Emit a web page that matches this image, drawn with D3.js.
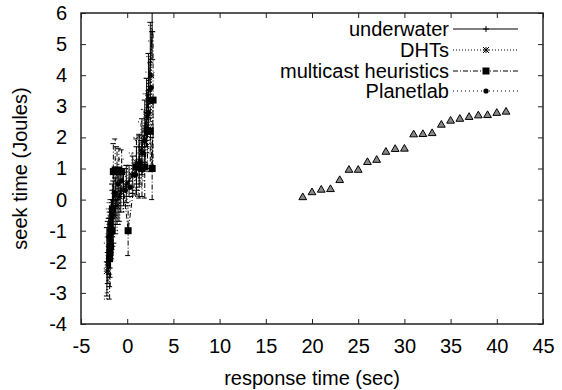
<!DOCTYPE html>
<html>
<head>
<meta charset="utf-8">
<script src="https://cdn.jsdelivr.net/npm/d3@7"></script>
<style>
  body { margin: 0; background: #fff; }
  svg text { font-family: "Liberation Sans", Arial, Helvetica, sans-serif; fill: #000; }
</style>
</head>
<body>
<figure id="chart" style="margin:0"></figure>
<script>
// tick values
const xTicks = [-5, 0, 5, 10, 15, 20, 25, 30, 35, 40, 45];
const yTicks = [-4, -3, -2, -1, 0, 1, 2, 3, 4, 5, 6];

// underwater (solid, +)
const underwaterX = [-2.2, -2.1, -2.0, -1.9, -1.8, -1.7, -1.6, -1.5, -1.3, -1.1, -0.9, -0.7, -0.4, -0.1, 0.2, 0.6, 1.0, 1.3, 1.6, 1.9, 2.1, 2.3, 2.5, 2.7];
const underwaterY = [-2.0, -1.7, -1.5, -1.3, -1.1, -0.8, -0.6, -0.4, -0.2, 0.0, 0.1, 0.3, 0.4, 0.5, 0.6, 0.8, 1.0, 1.3, 1.7, 2.2, 2.8, 3.5, 4.4, 5.4];
const underwaterErr = [1.1, 1.0, 0.9, 0.9, 0.8, 0.8, 0.9, 1.0, 0.9, 0.8, 0.8, 0.7, 0.6, 0.6, 0.5, 0.6, 0.7, 0.8, 0.9, 1.0, 1.1, 1.2, 1.3, 0.9];

// DHTs (dotted, x)
const dhtsX = [-2.2, -2.1, -2.0, -1.9, -1.8, -1.6, -1.4, -1.1, -0.8, -0.4, 0.0, 0.5, 1.0, 1.2, 1.5, 1.8, 2.0, 2.2, 2.4, 2.6];
const dhtsY = [-2.3, -2.1, -1.9, -1.6, -1.4, -1.0, -0.5, -0.2, 0.1, 0.3, 0.5, 0.8, 1.2, 1.0, 1.6, 1.9, 2.3, 2.7, 3.2, 4.0];
const dhtsErr = [0.9, 0.9, 0.8, 0.8, 0.8, 0.7, 0.7, 0.8, 0.9, 0.7, 0.6, 0.7, 0.8, 0.9, 0.9, 1.0, 1.1, 1.2, 1.4, 1.6];

// multicast heuristics (dash-dot, filled squares)
const multicastX = [-1.9, -1.85, -1.8, -1.7, -1.6, -1.5, -1.3, -1.1, -0.9, -0.6, 0.1, 1.0, 1.3, 1.6, 1.9, 2.2, 2.5, 2.7, 2.8];
const multicastY = [-1.9, -1.7, -1.5, -1.0, -0.3, 0.9, 0.95, 0.9, 0.95, 0.9, -1.0, 1.05, 1.05, 1.0, 1.05, 2.2, 2.2, 1.0, 3.2];
const multicastErr = [1.3, 1.1, 1.0, 0.9, 0.8, 0.9, 1.0, 0.8, 0.7, 0.7, 0.8, 0.9, 1.0, 0.9, 1.0, 1.2, 1.3, 1.0, 2.2];

// Planetlab (sparse dotted, filled circles)
const planetlabX = [-2.0, -1.9, -1.8, -1.6, -1.3, -1.0, -0.6, -0.2, 0.3, 0.9, 1.4, 1.7, 1.9, 2.3, 2.6];
const planetlabY = [-1.2, -1.0, -0.8, -0.3, 0.2, 0.5, 0.6, 0.3, 0.4, 0.8, 1.2, 1.5, 1.9, 2.8, 3.6];
const planetlabErr = [0.9, 0.9, 0.8, 0.8, 0.7, 0.8, 0.7, 0.6, 0.6, 0.7, 0.8, 0.9, 1.0, 1.3, 1.5];

// unlabelled triangle series
const triX = [19, 20, 21, 22, 23, 24, 25, 26, 27, 28, 29, 30, 31, 32, 33, 34, 35, 36, 37, 38, 39, 40, 41];
const triY = [0.07, 0.23, 0.31, 0.33, 0.62, 0.95, 0.95, 1.2, 1.27, 1.53, 1.62, 1.63, 2.09, 2.1, 2.13, 2.4, 2.53, 2.59, 2.65, 2.7, 2.71, 2.78, 2.82];

const W = 562, H = 390;
const margin = {left: 81, top: 13, right: 19, bottom: 66};
const width = W - margin.left - margin.right;
const height = H - margin.top - margin.bottom;
const fontSize = 20;

const svg = d3.select("figure#chart").append("svg")
  .attr("width", W).attr("height", H);

const g = svg.append("g")
  .attr("transform", "translate(" + margin.left + "," + margin.top + ")");

const x = d3.scaleLinear().domain([-5, 45]).range([0, width]);
const y = d3.scaleLinear().domain([-4, 6]).range([height, 0]);

g.append("clipPath").attr("id", "clip")
  .append("rect").attr("width", width).attr("height", height);

// axes with inward ticks, mirrored
function styleAxis(sel) {
  sel.select(".domain").remove();
  sel.selectAll("line").attr("stroke", "#222").attr("stroke-width", 1);
  sel.selectAll("text").style("font-size", fontSize + "px");
}
const fmt = d => String(d);
g.append("g").attr("transform", "translate(0," + height + ")")
  .call(d3.axisBottom(x).tickValues(xTicks).tickSizeInner(-5).tickSizeOuter(0).tickPadding(15).tickFormat(fmt))
  .call(styleAxis);
g.append("g")
  .call(d3.axisTop(x).tickValues(xTicks).tickSizeInner(-5).tickSizeOuter(0).tickFormat(""))
  .call(styleAxis);
g.append("g")
  .call(d3.axisLeft(y).tickValues(yTicks).tickSizeInner(-5).tickSizeOuter(0).tickPadding(14).tickFormat(fmt))
  .call(styleAxis);
g.append("g").attr("transform", "translate(" + width + ",0)")
  .call(d3.axisRight(y).tickValues(yTicks).tickSizeInner(-5).tickSizeOuter(0).tickFormat(""))
  .call(styleAxis);

g.append("rect").attr("width", width).attr("height", height)
  .attr("fill", "none").attr("stroke", "#222").attr("stroke-width", 1.5);

// marker drawing
function drawMarker(sel, type, cx, cy) {
  if (type === "plus") {
    sel.append("path").attr("d", `M${cx-3},${cy}H${cx+3}M${cx},${cy-3}V${cy+3}`)
      .attr("stroke", "#000").attr("stroke-width", 1);
  } else if (type === "star") {
    sel.append("path").attr("d", `M${cx-3},${cy-3}L${cx+3},${cy+3}M${cx-3},${cy+3}L${cx+3},${cy-3}M${cx-3},${cy}H${cx+3}M${cx},${cy-3}V${cy+3}`)
      .attr("stroke", "#000").attr("stroke-width", 1);
  } else if (type === "square") {
    sel.append("rect").attr("x", cx - 3.5).attr("y", cy - 3.5).attr("width", 7).attr("height", 7)
      .attr("fill", "#000");
  } else if (type === "circle") {
    sel.append("circle").attr("cx", cx).attr("cy", cy).attr("r", 2.6).attr("fill", "#000");
  }
}

const series = [
  {name: "underwater", xs: underwaterX, ys: underwaterY, err: underwaterErr, dash: null, marker: "plus"},
  {name: "DHTs", xs: dhtsX, ys: dhtsY, err: dhtsErr, dash: "1,2", marker: "star"},
  {name: "multicast heuristics", xs: multicastX, ys: multicastY, err: multicastErr, dash: "5,2,1,2", marker: "square"},
  {name: "Planetlab", xs: planetlabX, ys: planetlabY, err: planetlabErr, dash: "1,3", marker: "circle"}
];

const plot = g.append("g").attr("clip-path", "url(#clip)");
const line = d3.line().x(d => x(d[0])).y(d => y(d[1]));

series.forEach(s => {
  const pts = s.xs.map((v, i) => [v, s.ys[i], s.err[i]]);
  const sg = plot.append("g");
  // error bars
  pts.forEach(p => {
    const px = x(p[0]);
    sg.append("path")
      .attr("d", `M${px},${y(p[1] - p[2])}V${y(p[1] + p[2])}M${px-3},${y(p[1] - p[2])}H${px+3}M${px-3},${y(p[1] + p[2])}H${px+3}`)
      .attr("stroke", "#000").attr("stroke-width", 1).attr("fill", "none")
      .attr("stroke-dasharray", s.dash);
  });
  sg.append("path").datum(pts).attr("d", line)
    .attr("fill", "none").attr("stroke", "#000").attr("stroke-width", 1)
    .attr("stroke-dasharray", s.dash);
  pts.forEach(p => drawMarker(sg, s.marker, x(p[0]), y(p[1])));
});

// triangles
const tri = d3.symbol().type(d3.symbolTriangle).size(26);
plot.selectAll("path.tri").data(triX.map((v, i) => [v, triY[i]])).enter()
  .append("path").attr("class", "tri")
  .attr("d", tri)
  .attr("transform", d => "translate(" + x(d[0]) + "," + y(d[1]) + ")")
  .attr("fill", "#888").attr("stroke", "#000").attr("stroke-width", 1);

// legend
const legend = g.append("g");
const legY = [29, 50, 71, 91].map(v => v - margin.top);
series.forEach((s, i) => {
  const ly = legY[i];
  legend.append("text").attr("x", 449 - margin.left).attr("y", ly)
    .attr("dy", "0.35em").attr("text-anchor", "end")
    .style("font-size", fontSize + "px").text(s.name);
  legend.append("path").attr("d", `M${453 - margin.left},${ly}H${518 - margin.left}`)
    .attr("stroke", "#000").attr("stroke-width", 1).attr("stroke-dasharray", s.dash);
  drawMarker(legend, s.marker, 486 - margin.left, ly);
});

// axis titles
svg.append("text").attr("x", margin.left + width / 2).attr("y", 378)
  .attr("dy", "0.35em").attr("text-anchor", "middle")
  .style("font-size", fontSize + "px").text("response time (sec)");
svg.append("text")
  .attr("transform", "translate(20," + (margin.top + height / 2) + ") rotate(-90)")
  .attr("dy", "0.35em").attr("text-anchor", "middle")
  .style("font-size", fontSize + "px").text("seek time (Joules)");
</script>
</body>
</html>
